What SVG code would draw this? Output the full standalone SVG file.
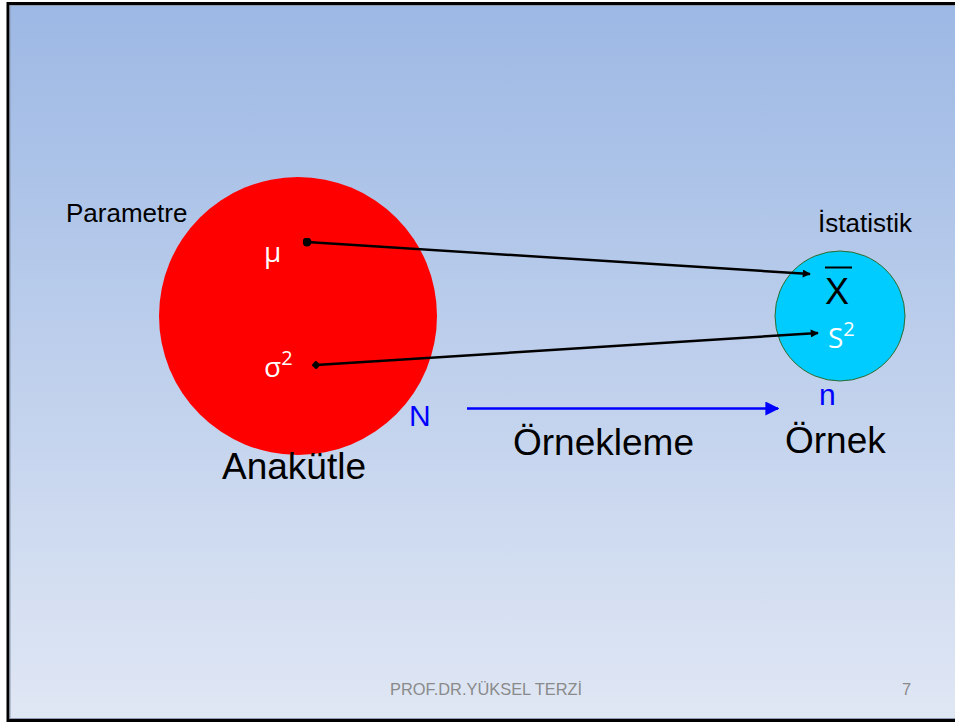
<svg xmlns="http://www.w3.org/2000/svg" width="955" height="722" viewBox="0 0 955 722">
  <defs>
    <linearGradient id="bg" x1="0" y1="0" x2="0" y2="1">
      <stop offset="0" stop-color="#9CB8E4"/>
      <stop offset="1" stop-color="#E0E7F4"/>
    </linearGradient>
    <marker id="arrowBlack" viewBox="0 0 10 10" refX="9" refY="5" markerWidth="9" markerHeight="8" markerUnits="userSpaceOnUse" orient="auto">
      <path d="M0,0 L10,5 L0,10 Z" fill="#000"/>
    </marker>
    <marker id="arrowBlue" viewBox="0 0 10 10" refX="9" refY="5" markerWidth="14" markerHeight="14" markerUnits="userSpaceOnUse" orient="auto">
      <path d="M0,0 L10,5 L0,10 Z" fill="#0000FF"/>
    </marker>
    <marker id="dot" viewBox="0 0 10 10" refX="5" refY="5" markerWidth="9" markerHeight="9" markerUnits="userSpaceOnUse">
      <circle cx="5" cy="5" r="5" fill="#000"/>
    </marker>
    <marker id="diamond" viewBox="0 0 10 10" refX="5" refY="5" markerWidth="9" markerHeight="9" markerUnits="userSpaceOnUse" orient="auto">
      <path d="M5,0 L10,5 L5,10 L0,5 Z" fill="#000"/>
    </marker>
  </defs>
  <style>
    .sans { font-family: "Liberation Sans", Arial, sans-serif; }
    .label { font-size: 26px; fill: #000; }
    .big { font-size: 37px; fill: #000; }
    .greek { font-family: "Open Sans", "DejaVu Sans", sans-serif; fill: #fff; font-size: 28px; }
    .blue { fill: #0000FF; font-size: 30px; }
    .link { stroke: #000; stroke-width: 2.5; fill: none; }
    .footer { font-size: 16.4px; fill: #8A8A8A; }
  </style>

  <!-- slide background and frame -->
  <rect x="0" y="0" width="955" height="722" fill="#fff"/>
  <rect x="8" y="3.5" width="960" height="717" fill="url(#bg)" stroke="#000" stroke-width="3"/>
  <rect x="10" y="5.5" width="960" height="713" fill="none" stroke="#8E9AB0" stroke-width="1"/>

  <!-- population -->
  <g id="population">
    <circle cx="298" cy="316" r="139" fill="#FF0000"/>
    <text class="greek" x="264" y="262">μ</text>
    <text class="greek" x="264" y="377">σ<tspan font-size="20" dy="-12">2</tspan></text>
  </g>

  <!-- sample -->
  <g id="sample">
    <circle cx="840" cy="316" r="65" fill="#00CCFF" stroke="#2E6B2E" stroke-width="1"/>
    <text class="sans" x="825" y="304" font-size="36" fill="#000">X</text>
    <line x1="825" y1="267.5" x2="852" y2="267.5" stroke="#000" stroke-width="2"/>
    <text x="828" y="348" font-family="Open Sans, DejaVu Sans, sans-serif" font-size="28" fill="#fff">S<tspan font-size="20" dy="-12">2</tspan></text>
  </g>

  <!-- labels -->
  <g id="labels" class="sans">
    <text class="label" x="66" y="222">Parametre</text>
    <text class="label" x="818" y="232">İstatistik</text>
    <text class="big" x="222" y="479">Anakütle</text>
    <text class="big" x="513" y="455">Örnekleme</text>
    <text class="big" x="785" y="453">Örnek</text>
    <text class="blue" x="409" y="426">N</text>
    <text class="blue" x="819" y="405">n</text>
  </g>

  <!-- connectors -->
  <g id="connectors">
    <line class="link" x1="307" y1="242" x2="810" y2="274" marker-start="url(#dot)" marker-end="url(#arrowBlack)"/>
    <line class="link" x1="316" y1="365" x2="818" y2="333" marker-start="url(#diamond)" marker-end="url(#arrowBlack)"/>
    <line x1="467" y1="408.5" x2="778" y2="408.5" stroke="#0000FF" stroke-width="2.5" marker-end="url(#arrowBlue)"/>
  </g>

  <!-- footer -->
  <g id="footer" class="sans">
    <text class="footer" x="390" y="695">PROF.DR.YÜKSEL TERZİ</text>
    <text class="footer" x="902" y="695">7</text>
  </g>
</svg>
